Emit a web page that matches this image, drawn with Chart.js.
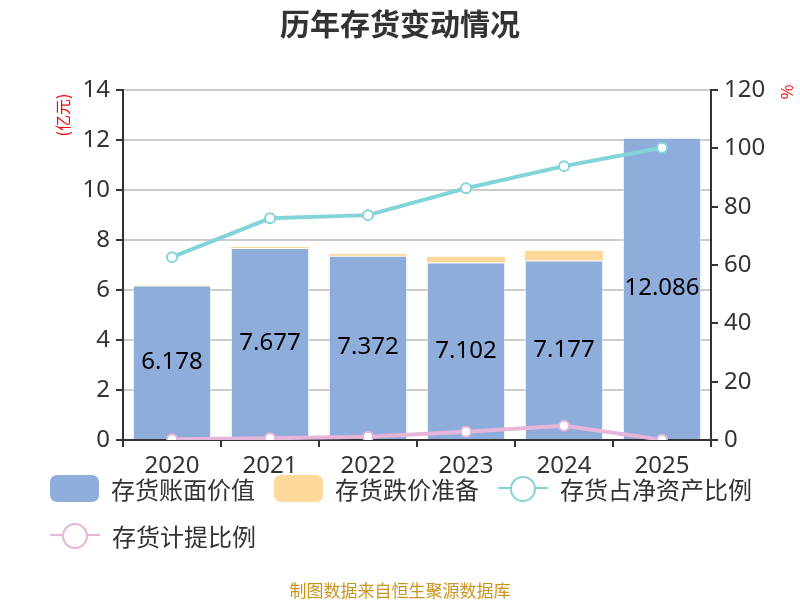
<!DOCTYPE html>
<html>
<head>
<meta charset="utf-8">
<script src="https://cdn.jsdelivr.net/npm/chart.js@4.4.1/dist/chart.umd.min.js"></script>
<style>
  html, body { margin: 0; padding: 0; background: #fff; }
  #wrap { position: relative; width: 800px; height: 600px; font-family: "Noto Sans", "Noto Sans CJK SC", sans-serif; }
  #chart { position: absolute; left: 0; top: 0; }
  #title { position: absolute; top: 4px; left: 0; width: 800px; text-align: center; font-size: 30px; line-height: 36px; font-weight: bold; color: #333; font-family: "Noto Sans CJK SC", sans-serif; }
  #footer { position: absolute; top: 577px; left: 0; width: 800px; text-align: center; font-size: 17px; color: #c9951e; font-family: "Noto Sans CJK SC", sans-serif; }
  .lg { position: absolute; display: flex; align-items: center; height: 27px; line-height: 27px; font-size: 24px; color: #333; font-family: "Noto Sans CJK SC", sans-serif; }
  .lg .box { width: 49px; height: 27px; border-radius: 7px; margin-right: 12px; }
  .lg .ln { position: relative; width: 50px; height: 27px; margin-right: 12px; }
  .lg .ln .bar { position: absolute; left: 0; top: 12px; width: 50px; height: 2px; }
  .lg .ln .dot { position: absolute; left: 12px; top: 1px; width: 22px; height: 22px; border-radius: 50%; background: #fff; border: 2px solid; }
</style>
</head>
<body>
<div id="wrap">
  <canvas id="chart" width="800" height="600"></canvas>
  <div id="title">历年存货变动情况</div>
  <div id="legend"></div>
  <div id="footer">制图数据来自恒生聚源数据库</div>
</div>
<script>
// 数据
const years = ['2020', '2021', '2022', '2023', '2024', '2025'];
const bookValue = [6.178, 7.677, 7.372, 7.102, 7.177, 12.086];      // 存货账面价值 (亿元)
const impairment = [0.02, 0.04, 0.07, 0.23, 0.39, 0.0];           // 存货跌价准备 (亿元)
const netAssetRatio = [62.7, 76.0, 77.1, 86.3, 93.9, 100.2];       // 存货占净资产比例 (%)
const provisionRatio = [0.23, 0.57, 1.14, 2.86, 4.9, 0.1];          // 存货计提比例 (%)

const BLUE = '#8eaddb';
const YELLOW = '#ffd99b';
const TEAL = '#83d4d8';
const PINK = '#e6b5da';
const AXIS = '#333333';
const FONT = '"Noto Sans", "Noto Sans CJK SC", sans-serif';

// 柱内数值
const barLabels = {
  id: 'barLabels',
  afterDatasetsDraw(chart) {
    const ctx = chart.ctx;
    const meta = chart.getDatasetMeta(0);
    ctx.save();
    ctx.font = '24px ' + FONT;
    ctx.fillStyle = '#000';
    ctx.textAlign = 'center';
    ctx.textBaseline = 'middle';
    meta.data.forEach((el, i) => {
      ctx.fillText(bookValue[i].toFixed(3), el.x, (el.y + el.base) / 2);
    });
    ctx.restore();
  }
};

// 坐标轴单位
const axisUnits = {
  id: 'axisUnits',
  afterDraw(chart) {
    const ctx = chart.ctx;
    const top = chart.chartArea.top;
    ctx.save();
    ctx.font = '16px "Noto Sans CJK SC", sans-serif';
    ctx.fillStyle = '#ff0000';
    ctx.textAlign = 'center';
    ctx.textBaseline = 'middle';
    ctx.translate(63, top + 25);
    ctx.rotate(-Math.PI / 2);
    ctx.fillText('(亿元)', 0, 0);
    ctx.restore();
    ctx.save();
    ctx.font = '16px "Noto Sans CJK SC", sans-serif';
    ctx.fillStyle = '#ff0000';
    ctx.textAlign = 'center';
    ctx.textBaseline = 'middle';
    ctx.translate(787, top + 2);
    ctx.rotate(-Math.PI / 2);
    ctx.fillText('%', 0, 0);
    ctx.restore();
  }
};

const tickFont = { family: FONT, size: 24 };

const chart = new Chart(document.getElementById('chart'), {
  data: {
    labels: years,
    datasets: [
      {
        type: 'bar', label: '存货账面价值', data: bookValue, yAxisID: 'y', stack: 's',
        backgroundColor: BLUE, borderColor: 'rgba(255,255,255,0.5)', borderWidth: 1,
        categoryPercentage: 0.8, barPercentage: 1, order: 2
      },
      {
        type: 'bar', label: '存货跌价准备', data: impairment, yAxisID: 'y', stack: 's',
        backgroundColor: YELLOW, borderWidth: 0,
        categoryPercentage: 0.8, barPercentage: 1, order: 2
      },
      {
        type: 'line', label: '存货占净资产比例', data: netAssetRatio, yAxisID: 'y1',
        borderColor: TEAL, borderWidth: 4, pointRadius: 5, pointBorderWidth: 2,
        pointBackgroundColor: '#fff', pointBorderColor: TEAL, tension: 0, order: 1
      },
      {
        type: 'line', label: '存货计提比例', data: provisionRatio, yAxisID: 'y1',
        borderColor: PINK, borderWidth: 4, pointRadius: 5, pointBorderWidth: 2,
        pointBackgroundColor: '#fff', pointBorderColor: PINK, tension: 0, order: 0
      }
    ]
  },
  options: {
    responsive: false,
    animation: false,
    layout: { padding: { top: 90, left: 0, right: 0, bottom: 0 } },
    plugins: { legend: { display: false }, tooltip: { enabled: false } },
    scales: {
      x: {
        stacked: true,
        offset: true,
        grid: { offset: true, drawOnChartArea: false, color: AXIS, lineWidth: 2, tickLength: 7 },
        border: { color: AXIS, width: 2 },
        ticks: { color: AXIS, font: tickFont, padding: 5, maxRotation: 0 },
        afterFit(scale) { scale.height = 160; }
      },
      y: {
        stacked: true,
        position: 'left',
        min: 0, max: 14,
        ticks: { stepSize: 2, color: AXIS, font: tickFont, padding: 6 },
        grid: { color: '#cccccc', lineWidth: 2, tickColor: AXIS, tickLength: 7 },
        border: { color: AXIS, width: 2 },
        afterFit(scale) { scale.width = 123; }
      },
      y1: {
        position: 'right',
        min: 0, max: 120,
        ticks: { stepSize: 20, color: AXIS, font: tickFont, padding: 6 },
        grid: { drawOnChartArea: false, color: AXIS, lineWidth: 2, tickLength: 7 },
        border: { color: AXIS, width: 2 },
        afterFit(scale) { scale.width = 89; }
      }
    }
  },
  plugins: [barLabels, axisUnits]
});

// 图例
const legendItems = [
  { text: chart.data.datasets[0].label, kind: 'box', color: BLUE, x: 50, y: 475 },
  { text: chart.data.datasets[1].label, kind: 'box', color: YELLOW, x: 274, y: 475 },
  { text: chart.data.datasets[2].label, kind: 'line', color: TEAL, x: 498, y: 475 },
  { text: chart.data.datasets[3].label, kind: 'line', color: PINK, x: 50, y: 522 }
];
const legendEl = document.getElementById('legend');
legendEl.innerHTML = legendItems.map(it => {
  const icon = it.kind === 'box'
    ? `<span class="box" style="background:${it.color}"></span>`
    : `<span class="ln"><span class="bar" style="background:${it.color}"></span><span class="dot" style="border-color:${it.color}"></span></span>`;
  return `<div class="lg" style="left:${it.x}px;top:${it.y}px;">${icon}${it.text}</div>`;
}).join('');
</script>
</body>
</html>
